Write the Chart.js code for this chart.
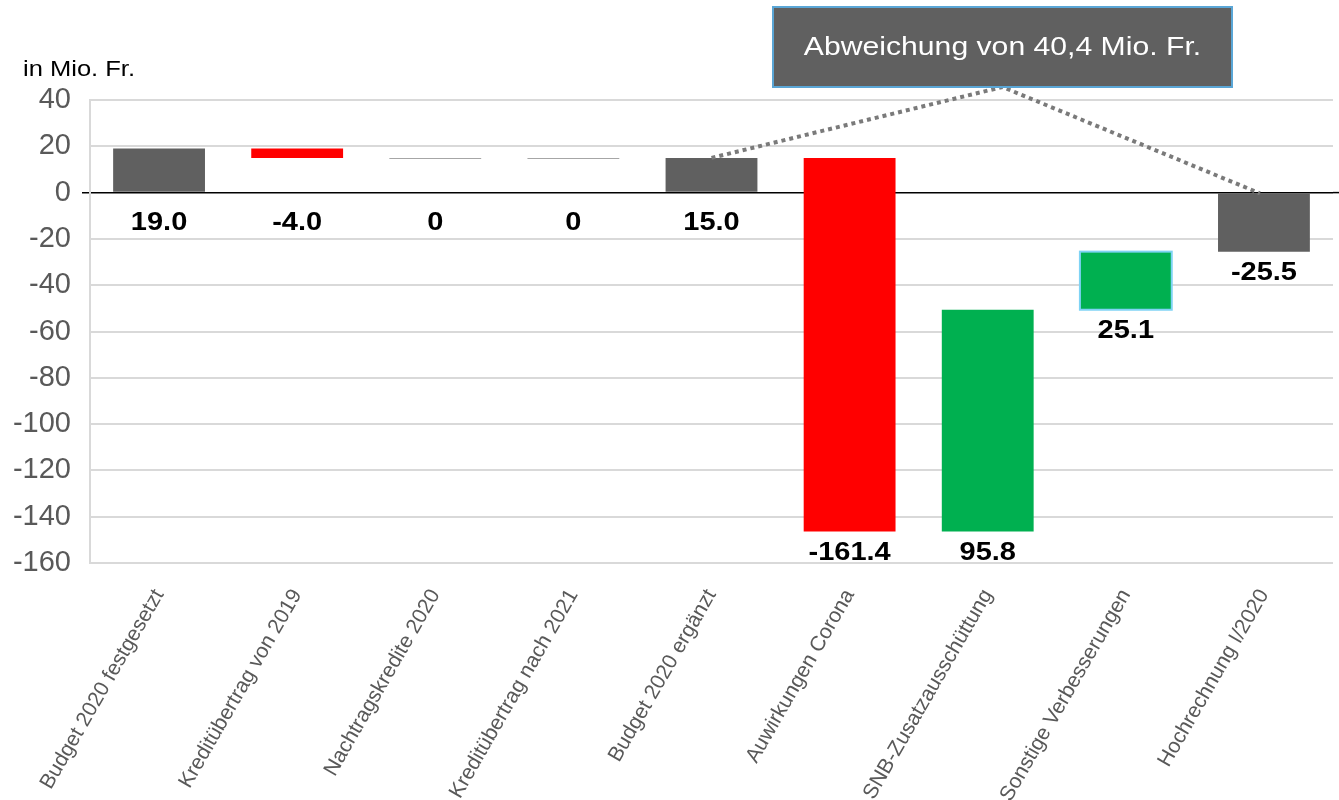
<!DOCTYPE html>
<html>
<head>
<meta charset="utf-8">
<script src="https://cdn.jsdelivr.net/npm/chart.js@4"></script>
<style>
  html, body { margin: 0; padding: 0; background: #fff; }
  #wrap { width: 1339px; height: 800px; position: relative; }
</style>
</head>
<body>
<div id="wrap"><canvas id="chart"></canvas></div>
<script>
// Data (Mio. Fr.)
const categories = [
  "Budget 2020 festgesetzt",
  "Kreditübertrag von 2019",
  "Nachtragskredite 2020",
  "Kreditübertrag nach 2021",
  "Budget 2020 ergänzt",
  "Auwirkungen Corona",
  "SNB-Zusatzausschüttung",
  "Sonstige Verbesserungen",
  "Hochrechnung I/2020"
];
const deltas = [19.0, -4.0, 0, 0, 15.0, -161.4, 95.8, 25.1, -25.5];
const isTotal = [true, false, false, false, true, false, false, false, true];
const valueLabels = ["19.0", "-4.0", "0", "0", "15.0", "-161.4", "95.8", "25.1", "-25.5"];
const yTicks = [40, 20, 0, -20, -40, -60, -80, -100, -120, -140, -160];
const calloutText = "Abweichung von 40,4 Mio. Fr.";
const unitText = "in Mio. Fr.";

const GRAY = "#606060", RED = "#ff0000", GREEN = "#00b050";
const barColors = [GRAY, RED, GRAY, GRAY, GRAY, RED, GREEN, GREEN, GRAY];
const FONT = "'Liberation Sans', Arial, sans-serif";
const STRETCH = 1.16; // the original text is a bit wider than it is tall

// waterfall ranges from the deltas
let run = 0;
const ranges = deltas.map((d, i) => {
  if (isTotal[i]) { run = d; return [0, d]; }
  const r = [run, run + d];
  run += d;
  return r;
});

function wideText(ctx, text, x, y) {
  ctx.save();
  ctx.translate(x, y);
  ctx.scale(STRETCH, 1);
  ctx.fillText(text, 0, 0);
  ctx.restore();
}

const overlay = {
  id: "overlay",
  afterDatasetsDraw(chart) {
    const ctx = chart.ctx;
    const meta = chart.getDatasetMeta(0);
    const y = chart.scales.y;
    const area = chart.chartArea;
    ctx.save();

    // zero line running out to the edge
    ctx.strokeStyle = "#000";
    ctx.lineWidth = 1.5;
    ctx.beginPath();
    ctx.moveTo(area.right, y.getPixelForValue(0));
    ctx.lineTo(chart.width, y.getPixelForValue(0));
    ctx.stroke();

    // border of "Sonstige Verbesserungen"
    const b7 = meta.data[7];
    ctx.strokeStyle = "#7fd3f5";
    ctx.lineWidth = 2;
    ctx.strokeRect(b7.x - b7.width / 2, Math.min(b7.y, b7.base), b7.width, Math.abs(b7.base - b7.y));

    // zero-change bars as thin lines
    meta.data.forEach((bar, i) => {
      if (deltas[i] !== 0) return;
      ctx.strokeStyle = "#a6a6a6";
      ctx.lineWidth = 1;
      ctx.beginPath();
      ctx.moveTo(bar.x - bar.width / 2, Math.round(bar.y) + 0.5);
      ctx.lineTo(bar.x + bar.width / 2, Math.round(bar.y) + 0.5);
      ctx.stroke();
    });

    // value labels under each bar
    ctx.fillStyle = "#000";
    ctx.font = "bold 25px " + FONT;
    ctx.textAlign = "center";
    ctx.textBaseline = "top";
    meta.data.forEach((bar, i) => {
      const low = Math.min(ranges[i][0], ranges[i][1]);
      let top;
      if (low >= 0) top = y.getPixelForValue(0) + 18;
      else top = y.getPixelForValue(low) + 9;
      wideText(ctx, valueLabels[i], bar.x, top);
    });

    // unit text
    ctx.font = "22px " + FONT;
    ctx.textAlign = "left";
    ctx.textBaseline = "alphabetic";
    wideText(ctx, unitText, 23, 76);

    // callout
    const bx = 773, by = 7, bw = 459, bh = 80;
    const a = meta.data[4], c = meta.data[8];
    ctx.strokeStyle = "#7a7a7a";
    ctx.lineWidth = 4;
    ctx.setLineDash([4, 4]);
    ctx.beginPath();
    ctx.moveTo(a.x, a.y);
    ctx.lineTo(bx + bw / 2, by + bh);
    ctx.lineTo(c.x - 4, c.base);
    ctx.stroke();
    ctx.setLineDash([]);

    ctx.fillStyle = GRAY;
    ctx.fillRect(bx, by, bw, bh);
    ctx.strokeStyle = "#5aa6d6";
    ctx.lineWidth = 2;
    ctx.strokeRect(bx, by, bw, bh);
    ctx.fillStyle = "#fff";
    ctx.font = "26px " + FONT;
    ctx.textAlign = "center";
    ctx.textBaseline = "middle";
    wideText(ctx, calloutText, bx + bw / 2, by + bh / 2 + 1);
    ctx.restore();
  }
};

new Chart(document.getElementById("chart"), {
  type: "bar",
  data: {
    labels: categories,
    datasets: [{
      data: ranges,
      backgroundColor: barColors,
      borderWidth: 0,
      barPercentage: 1,
      categoryPercentage: 0.665
    }]
  },
  options: {
    responsive: true,
    maintainAspectRatio: false,
    animation: false,
    layout: { padding: { top: 100, right: 6, left: 0, bottom: 0 } },
    plugins: { legend: { display: false }, tooltip: { enabled: false } },
    scales: {
      x: {
        grid: { display: false },
        border: { display: false },
        ticks: {
          color: "#595959",
          font: { family: FONT, size: 21 },
          minRotation: 60,
          maxRotation: 60,
          padding: 14,
          autoSkip: false
        },
        afterFit(scale) { scale.height = 237; }
      },
      y: {
        min: -160,
        max: 40,
        afterBuildTicks(scale) { scale.ticks = yTicks.map(v => ({ value: v })); },
        grid: {
          color: ctx => ctx.tick && ctx.tick.value === 0 ? "#000" : "#d9d9d9",
          lineWidth: ctx => ctx.tick && ctx.tick.value === 0 ? 1.5 : 2,
          tickColor: ctx => ctx.tick && ctx.tick.value === 0 ? "#000" : "rgba(0,0,0,0)",
          tickLength: 8
        },
        border: { color: "#d9d9d9", width: 2 },
        ticks: {
          color: "#595959",
          font: { family: FONT, size: 29 },
          padding: 11
        },
        afterFit(scale) { scale.width = 90; }
      }
    }
  },
  plugins: [overlay]
});
</script>
</body>
</html>
